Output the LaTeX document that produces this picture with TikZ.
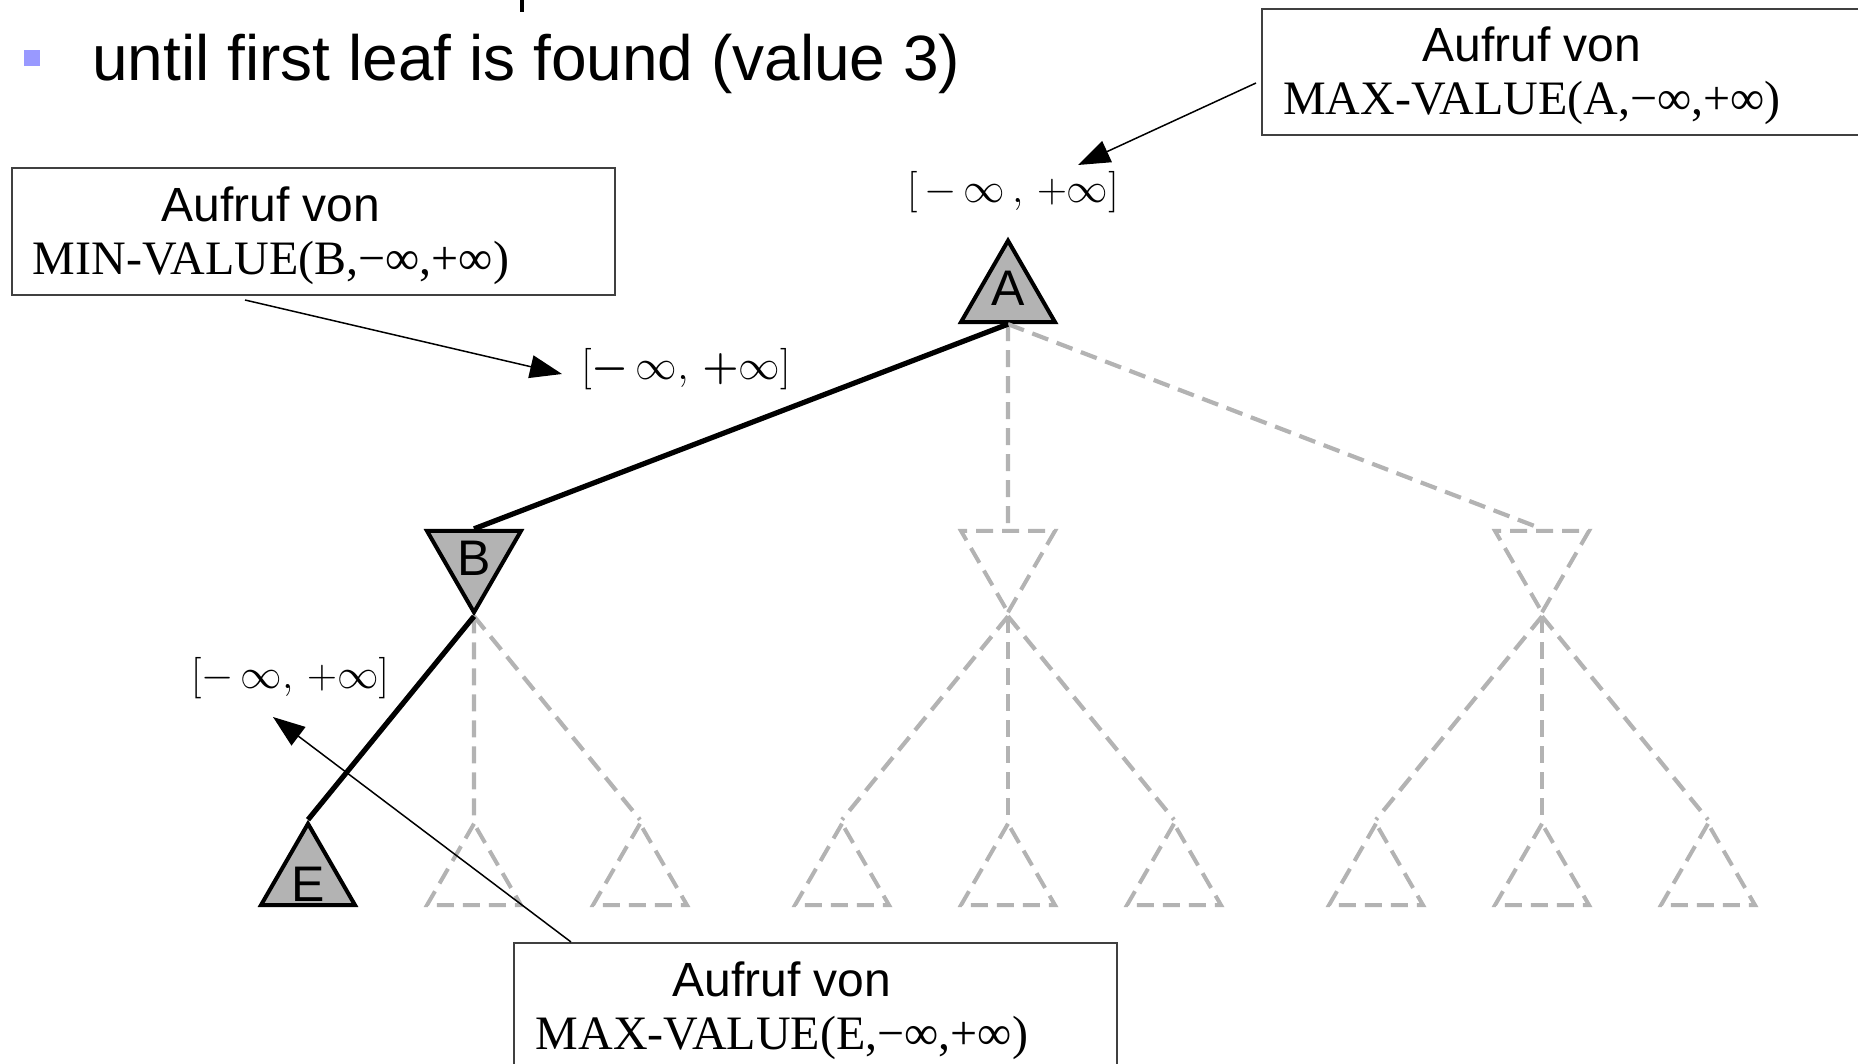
\documentclass[tikz,border=0pt]{standalone}
\usepackage[no-math]{fontspec}
\usepackage{bm}
\newfontfamily\sansf{Liberation Sans}
\newfontfamily\seriff{Liberation Serif}
\usetikzlibrary{shapes.geometric,arrows.meta,calc}
\definecolor{ngray}{HTML}{B3B3B3}
\definecolor{bulletc}{HTML}{9999FF}
\begin{document}
\begin{tikzpicture}[x=0.5pt,y=-0.5pt,
  tri/.style={regular polygon, regular polygon sides=3, minimum size=54.3pt, inner sep=0pt, line width=2pt},
  maxnode/.style={tri, draw=black, fill=ngray, font=\sansf\fontsize{25}{25}\selectfont},
  minnode/.style={maxnode, shape border rotate=180},
  ghostmax/.style={tri, draw=ngray, dash pattern=on 8.5pt off 4.5pt},
  ghostmin/.style={ghostmax, shape border rotate=180},
  treeedge/.style={line width=2.6pt, black},
  ghostedge/.style={line width=2.1pt, ngray, dash pattern=on 8.5pt off 4.5pt},
  callbox/.style={draw=black!75, line width=0.8pt, inner sep=0pt},
  calltext/.style={align=center, inner sep=0pt, font=\fontsize{24}{26.5}\selectfont},
  callout/.style={line width=0.75pt, -{Triangle[length=16pt,width=11.5pt]}},
  interval/.style={inner sep=0pt, font=\fontsize{21.5}{21.5}\selectfont}
]
\useasboundingbox (0,0) rectangle (1858,1064);
\clip (0,0) rectangle (1858,1064);

% title line
\draw[line width=2.2pt] (522,0) -- (522,12);
\node[fill=bulletc, minimum size=8pt, inner sep=0pt] (bullet) at (32,58) {};
\node[anchor=base west, inner sep=0pt, font=\sansf\fontsize{32}{38}\selectfont] (title) at (92,81) {until first leaf is found (value 3)};

% tree nodes
\node[maxnode] (A) at (1008,295) {\raisebox{3.5pt}[\height][\depth]{A}};
\node[minnode] (B) at (474,558) {B};
\node[ghostmin] (M2) at (1008,558) {};
\node[ghostmin] (M3) at (1542,558) {};
\node[maxnode] (E) at (308,878) {\raisebox{-3pt}[\height][\depth]{E}};
\node[ghostmax] (L2) at (474,878) {};
\node[ghostmax] (L3) at (640,878) {};
\node[ghostmax] (L4) at (842,878) {};
\node[ghostmax] (L5) at (1008,878) {};
\node[ghostmax] (L6) at (1174,878) {};
\node[ghostmax] (L7) at (1376,878) {};
\node[ghostmax] (L8) at (1542,878) {};
\node[ghostmax] (L9) at (1708,878) {};

% edges
\draw[ghostedge] (A.south) -- (M2.north);
\draw[ghostedge] (A.south) -- (M3.north);
\draw[ghostedge] (B.south) -- (L2.north);
\draw[ghostedge] (B.south) -- (L3.north);
\draw[ghostedge] (M2.south) -- (L4.north);
\draw[ghostedge] (M2.south) -- (L5.north);
\draw[ghostedge] (M2.south) -- (L6.north);
\draw[ghostedge] (M3.south) -- (L7.north);
\draw[ghostedge] (M3.south) -- (L8.north);
\draw[ghostedge] (M3.south) -- (L9.north);
\draw[treeedge] (A.south) -- (B.north);
\draw[treeedge] (B.south) -- (E.north);

% interval labels
\node[interval] (labA) at (1013,192) {$[\,-\,\infty\,,\,+\infty]$};
\node[interval] (labB) at (686,369) {$[\bm{-}\,\infty,\,\bm{+}\infty]$};
\node[interval] (labE) at (290,678) {$[-\,\infty,\,+\infty]$};

% call boxes
\node[callbox, minimum width=304pt, minimum height=63pt] (boxA) at (1566,72) {};
\node[calltext] (txtA) at (1532,76) {\sansf Aufruf von\\\seriff MAX-VALUE(A,−∞,+∞)};
\node[callbox, minimum width=301.5pt, minimum height=63.5pt] (boxB) at (313.5,231.5) {};
\node[calltext] (txtB) at (271,236) {\sansf Aufruf von\\\seriff MIN-VALUE(B,−∞,+∞)};
\node[callbox, minimum width=301.5pt, minimum height=66pt] (boxE) at (815.5,1009) {};
\node[calltext] (txtE) at (782,1011) {\sansf Aufruf von\\\seriff MAX-VALUE(E,−∞,+∞)};

% callout arrows
\coordinate (sA) at (1256,83);
\coordinate (tA) at (1078,165);
\coordinate (sB) at (245,300);
\coordinate (tB) at (562,374);
\coordinate (sE) at (571,942);
\coordinate (tE) at (273,717);
\draw[callout] (sA) -- (tA);
\draw[callout] (sB) -- (tB);
\draw[callout] (sE) -- (tE);
\end{tikzpicture}
\end{document}
